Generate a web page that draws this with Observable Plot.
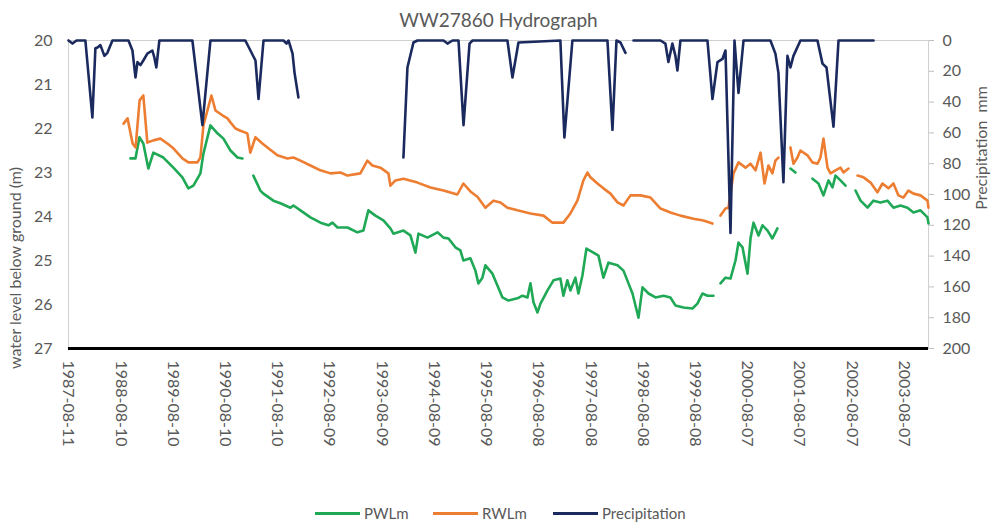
<!DOCTYPE html>
<html>
<head>
<meta charset="utf-8">
<script src="https://cdn.jsdelivr.net/npm/d3@7"></script>
<script src="https://cdn.jsdelivr.net/npm/@observablehq/plot@0.6"></script>
<style>
  html, body { margin: 0; padding: 0; background: #fff; }
  body { width: 993px; height: 524px; position: relative; overflow: hidden; font-family: Lato, "Open Sans", sans-serif; color: #595959; }
  #chart { position: absolute; left: 0; top: 0; }
  #title { position: absolute; left: 0; top: 10px; width: 997px; text-align: center; font-size: 19px; line-height: 19px; color: #595959; }
  .ylab { position: absolute; white-space: pre; font-size: 16px; line-height: 16px; color: #595959; transform: translate(-50%, -50%) rotate(-90deg); }
  #legend { position: absolute; left: 0; top: 503px; width: 993px; height: 20px; display: flex; align-items: center; font-size: 15px; color: #595959; }
  .item { position: absolute; display: flex; align-items: center; top: 0; height: 20px; }
  .sw { width: 45px; height: 3px; margin-right: 4px; }
</style>
</head>
<body>
<div id="chart"></div>
<div id="title">WW27860 Hydrograph</div>
<div class="ylab" style="left:15px; top:268px;">water level below ground (m)</div>
<div class="ylab" style="left:981px; top:148px;">Precipitation  mm</div>
<div id="legend"></div>
<script>
// ---- Series and labels ----
const seriesNames = ["PWLm", "RWLm", "Precipitation"];
const seriesColors = ["#1fa855", "#ed7d31", "#1b2a5e"];

const xTickDates = ["1987-08-11","1988-08-10","1989-08-10","1990-08-10","1991-08-10","1992-08-09","1993-08-09","1994-08-09","1995-08-09","1996-08-08","1997-08-08","1998-08-08","1999-08-08","2000-08-07","2001-08-07","2002-08-07","2003-08-07"];
const levelTicks = [20, 21, 22, 23, 24, 25, 26, 27];
const precipTicks = [0, 20, 40, 60, 80, 100, 120, 140, 160, 180, 200];
const xDomain = ["1987-08-11", "2004-01-25"];
const levelDomain = [20, 27];
const precipDomain = [0, 200];

// PWLm (m below ground); null = gap in record
const pwlDates = ["1988-10-17","1988-11-21","1988-12-19","1989-01-15","1989-02-19","1989-03-26","1989-06-04","1989-08-13","1989-10-15","1989-11-26","1989-12-31","1990-02-18","1990-03-11","1990-04-29","1990-06-17","1990-07-29","1990-09-16","1990-11-04","1990-12-09","1991-01-10","1991-02-23","1991-04-13","1991-05-04","1991-07-13","1991-08-31","1991-11-09","1991-11-30","1992-01-18","1992-03-28","1992-06-06","1992-08-01","1992-08-29","1992-10-03","1992-12-12","1993-02-19","1993-04-02","1993-05-07","1993-06-25","1993-08-20","1993-10-08","1993-10-29","1994-01-07","1994-02-25","1994-04-01","1994-04-22","1994-06-24","1994-09-02","1994-10-14","1994-11-18","1995-01-05","1995-02-09","1995-03-02","1995-04-20","1995-05-25","1995-06-15","1995-07-13","1995-08-03","1995-09-21","1995-10-26","1995-11-30","1996-01-11","1996-03-14","1996-04-18","1996-05-23","1996-06-13","1996-07-04","1996-08-01","1996-08-22","1996-10-10","1996-11-21","1997-01-08","1997-01-29","1997-02-26","1997-03-19","1997-04-23","1997-05-14","1997-06-11","1997-07-09","1997-08-27","1997-10-01","1997-11-05","1997-12-10","1998-02-11","1998-03-25","1998-04-29","1998-05-27","1998-07-08","1998-08-05","1998-09-16","1998-11-04","1998-12-30","1999-02-16","1999-03-23","1999-05-18","1999-07-20","1999-08-24","1999-09-28","1999-11-02","1999-12-14","2000-01-10","2000-02-01","2000-03-07","2000-04-11","2000-05-16","2000-06-06","2000-07-04","2000-08-08","2000-08-29","2000-09-19","2000-10-24","2000-11-21","2000-12-26","2001-01-29","2001-03-05","2001-04-15","2001-06-04","2001-07-09","2001-09-01","2001-11-05","2001-12-17","2002-01-21","2002-02-25","2002-03-25","2002-04-15","2002-05-20","2002-06-24","2002-08-01","2002-09-02","2002-10-07","2002-11-25","2003-01-05","2003-02-23","2003-04-13","2003-05-25","2003-07-13","2003-08-31","2003-10-12","2003-11-30","2004-01-18","2004-01-25"];
const pwlValues = [22.68,22.68,22.20,22.34,22.91,22.55,22.66,22.89,23.11,23.36,23.30,23.02,22.57,21.93,22.11,22.23,22.50,22.66,22.68,null,23.07,23.41,23.48,23.64,23.70,23.80,23.75,23.86,24.02,24.14,24.20,24.14,24.25,24.25,24.36,24.32,23.86,23.98,24.09,24.27,24.39,24.32,24.43,24.82,24.39,24.48,24.36,24.48,24.50,24.70,24.77,25.00,24.95,25.23,25.52,25.39,25.11,25.30,25.57,25.84,25.91,25.86,25.80,25.84,25.52,25.95,26.18,25.98,25.68,25.45,25.41,25.80,25.45,25.68,25.39,25.75,25.34,24.73,24.82,24.89,25.39,25.05,25.11,25.23,25.52,25.75,26.30,25.61,25.75,25.84,25.80,25.84,26.02,26.07,26.09,25.98,25.75,25.80,25.80,null,25.52,25.39,25.41,25.00,24.59,24.70,25.30,24.50,24.14,24.43,24.20,24.32,24.50,24.27,null,22.91,23.00,null,23.14,23.25,23.52,23.18,23.34,23.07,23.18,23.30,null,23.41,23.64,23.80,23.64,23.68,23.64,23.80,23.75,23.80,23.91,23.86,24.02,24.16];

// RWLm (m below ground)
const rwlDates = ["1988-08-30","1988-09-27","1988-11-01","1988-11-22","1988-12-20","1989-01-15","1989-02-12","1989-03-26","1989-05-14","1989-07-02","1989-08-13","1989-10-15","1989-11-26","1990-01-28","1990-02-18","1990-03-11","1990-04-08","1990-05-06","1990-06-03","1990-07-22","1990-08-26","1990-09-16","1990-10-21","1990-11-25","1991-01-12","1991-02-02","1991-03-09","1991-04-27","1991-06-08","1991-08-10","1991-10-19","1991-11-30","1992-01-18","1992-03-28","1992-06-06","1992-08-15","1992-10-24","1992-12-12","1993-03-12","1993-04-30","1993-06-04","1993-07-30","1993-09-24","1993-10-08","1993-11-12","1994-01-07","1994-04-15","1994-07-15","1994-10-14","1995-01-19","1995-03-02","1995-04-20","1995-06-08","1995-08-03","1995-09-28","1995-11-16","1996-01-04","1996-03-14","1996-06-13","1996-09-12","1996-11-14","1997-01-29","1997-03-19","1997-05-07","1997-06-18","1997-07-16","1997-08-06","1997-09-24","1997-11-05","1997-12-24","1998-02-11","1998-03-25","1998-05-13","1998-07-22","1998-09-30","1998-12-09","1999-02-16","1999-04-27","1999-07-27","1999-10-05","1999-12-07","2000-01-01","2000-02-01","2000-03-07","2000-03-28","2000-05-02","2000-06-06","2000-07-25","2000-08-29","2000-10-03","2000-11-07","2000-12-05","2001-01-01","2001-01-29","2001-02-19","2001-03-12","2001-04-15","2001-06-04","2001-06-25","2001-07-23","2001-08-13","2001-10-01","2001-11-05","2001-12-10","2001-12-31","2002-01-21","2002-02-18","2002-03-11","2002-04-15","2002-05-20","2002-06-10","2002-07-15","2002-08-15","2002-09-16","2002-10-28","2002-12-16","2003-02-02","2003-03-09","2003-04-20","2003-05-25","2003-06-29","2003-08-03","2003-09-07","2003-10-12","2003-11-30","2004-01-18","2004-01-25"];
const rwlValues = [21.89,21.77,22.34,22.43,21.36,21.25,22.32,22.27,22.23,22.34,22.45,22.68,22.77,22.77,22.66,21.93,21.59,21.25,21.59,21.70,21.77,21.86,22.00,22.05,22.11,22.55,22.20,22.34,22.45,22.61,22.68,22.66,22.73,22.84,22.95,23.02,23.00,23.07,23.02,22.73,22.84,22.89,23.02,23.30,23.18,23.14,23.23,23.34,23.41,23.50,23.25,23.43,23.55,23.80,23.64,23.68,23.80,23.86,23.93,23.98,24.14,24.14,23.93,23.64,23.18,23.00,23.11,23.25,23.36,23.48,23.68,23.75,23.52,23.52,23.57,23.82,23.91,23.98,24.05,24.09,24.16,null,23.98,23.82,23.80,23.02,22.77,22.89,22.80,22.95,22.55,23.25,22.84,23.02,22.73,22.66,null,22.43,22.80,22.66,22.50,22.61,22.77,22.80,22.66,22.23,22.89,23.02,22.95,22.89,23.00,22.91,null,23.07,23.11,23.23,23.45,23.25,23.36,23.25,23.52,23.57,23.41,23.48,23.52,23.64,23.80];

// Precipitation (mm), secondary axis
const precipDates = ["1987-08-11","1987-09-08","1987-10-06","1987-12-07","1988-01-25","1988-02-15","1988-03-01","1988-03-21","1988-04-18","1988-05-09","1988-06-13","1988-10-03","1988-10-31","1988-11-21","1988-12-05","1988-12-26","1989-01-15","1989-02-12","1989-03-19","1989-04-02","1989-04-16","1989-05-07","1989-12-24","1990-03-04","1990-04-29","1990-12-29","1991-03-10","1991-03-31","1991-05-05","1991-09-22","1991-10-13","1991-10-27","1991-11-24","1991-12-08","1992-01-04","1993-01-01","1994-01-07","1994-02-04","1994-03-18","1994-04-15","1994-10-14","1994-11-11","1994-12-16","1995-01-27","1995-03-03","1995-04-14","1995-05-05","1996-01-04","1996-02-08","1996-03-21","1997-01-08","1997-02-05","1997-04-02","1997-12-03","1998-01-07","1998-02-04","1998-03-04","1998-04-08","1998-05-01","1998-06-03","1998-12-09","1999-01-12","1999-02-02","1999-03-02","1999-03-23","1999-04-06","1999-04-27","1999-11-02","1999-12-07","2000-01-11","2000-02-15","2000-03-07","2000-04-11","2000-05-09","2000-06-06","2000-07-11","2001-01-15","2001-02-19","2001-03-12","2001-04-16","2001-05-14","2001-06-04","2001-06-25","2001-08-13","2001-12-10","2002-01-14","2002-02-11","2002-04-01","2002-05-06","2003-01-06"];
const precipValues = [0,2,0,0,50,5,4.5,3,10,8,0,0,6.5,24,14,16,13,8.5,6.5,11,17.5,0,0,55,0,0,13,38,0,0,2,0,8.5,21,37,null,76,17.5,1.3,0,0,2,0,0,55,2,0,0,24,1.3,0,63,0,0,58,0,1.3,8,null,0,0,2,14,2,10,19.5,0,0,38,14,12,6.5,125,0,34,0,0,8.5,21,92,10,17.5,10,0,0,15,17.5,56,0,0];

// ---- Build ----
const parse = d3.utcParse("%Y-%m-%d");
const fmt = d3.utcFormat("%Y-%m-%d");
// secondary axis mapped onto the level scale
const p2l = d3.scaleLinear().domain(precipDomain).range(levelDomain);

const pwl = pwlDates.map((d, i) => ({date: parse(d), value: pwlValues[i]}));
const rwl = rwlDates.map((d, i) => ({date: parse(d), value: rwlValues[i]}));
const precip = precipDates.map((d, i) => ({date: parse(d), value: precipValues[i] == null ? null : p2l(precipValues[i])}));

const chart = Plot.plot({
  width: 993,
  height: 490,
  marginLeft: 68,
  marginRight: 65,
  marginTop: 40,
  marginBottom: 142,
  style: {fontFamily: "Lato, 'Open Sans', sans-serif", color: "#595959", background: "transparent", overflow: "visible"},
  x: {type: "utc", domain: xDomain.map(parse)},
  y: {domain: levelDomain, reverse: true},
  marks: [
    Plot.frame({stroke: "#d0d0d0"}),
    Plot.axisY(levelTicks, {anchor: "left", tickSize: 0, tickPadding: 16, label: null, fontSize: 16, fill: "#595959"}),
    Plot.axisY(precipTicks.map(p2l), {anchor: "right", tickSize: 5, tickPadding: 9, label: null, fontSize: 16, fill: "#595959", stroke: "#bfbfbf", tickFormat: d => Math.round(p2l.invert(d))}),
    Plot.axisX(xTickDates.map(parse), {anchor: "bottom", tickSize: 0, tickPadding: 12, tickRotate: 90, tickFormat: fmt, label: null, fontSize: 16, fill: "#595959"}),
    Plot.line(pwl, {x: "date", y: "value", stroke: seriesColors[0], strokeWidth: 2.6, strokeLinejoin: "round"}),
    Plot.line(rwl, {x: "date", y: "value", stroke: seriesColors[1], strokeWidth: 2.6, strokeLinejoin: "round"}),
    Plot.line(precip, {x: "date", y: "value", stroke: seriesColors[2], strokeWidth: 2.6, strokeLinejoin: "round"}),
    Plot.ruleY([levelDomain[1]], {stroke: "#000", strokeWidth: 3})
  ]
});
document.getElementById("chart").appendChild(chart);

// ---- Legend ----
const legend = document.getElementById("legend");
const legendLeft = [315, 433, 553];
seriesNames.forEach((name, i) => {
  const it = document.createElement("div");
  it.className = "item";
  it.style.left = legendLeft[i] + "px";
  const sw = document.createElement("span");
  sw.className = "sw";
  sw.style.background = seriesColors[i];
  const tx = document.createElement("span");
  tx.textContent = name;
  it.appendChild(sw); it.appendChild(tx);
  legend.appendChild(it);
});
</script>
</body>
</html>
